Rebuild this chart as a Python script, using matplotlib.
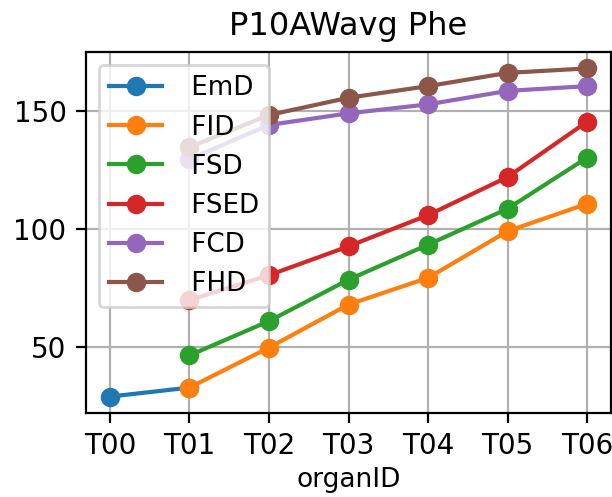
import numpy as np
import matplotlib
matplotlib.use("Agg")
import matplotlib.pyplot as plt

organs = ["T00", "T01", "T02", "T03", "T04", "T05", "T06"]
nan = np.nan

EmD = [29.2, 33.0, nan, nan, nan, nan, nan]
FID = [nan, 33.0, 49.9, 68.1, 79.4, 99.1, 110.7]
FSD = [nan, 46.6, 61.1, 78.6, 93.4, 108.6, 130.2]
FSED = [nan, 70.0, 80.5, 92.7, 105.9, 122.0, 145.4]
FCD = [nan, 129.5, 144.0, 148.9, 152.7, 158.4, 160.4]
FHD = [nan, 134.6, 148.2, 155.5, 160.4, 166.0, 167.9]

series = [("EmD", EmD), ("FID", FID), ("FSD", FSD),
          ("FSED", FSED), ("FCD", FCD), ("FHD", FHD)]

fig, ax = plt.subplots(figsize=(3.06, 2.485), dpi=200)
for name, vals in series:
    ax.plot(organs, vals, marker="o", label=" " + name)

ax.set_title("P10AWavg Phe", fontsize=11.5)
ax.set_xlabel("organID", fontsize=9.5, labelpad=2.5)
ax.grid(True)
ax.legend(loc="upper left", fontsize=9.4)
fig.subplots_adjust(left=0.1405, right=0.9984, bottom=0.169, top=0.8954)
fig.savefig("out.png", dpi=200)
